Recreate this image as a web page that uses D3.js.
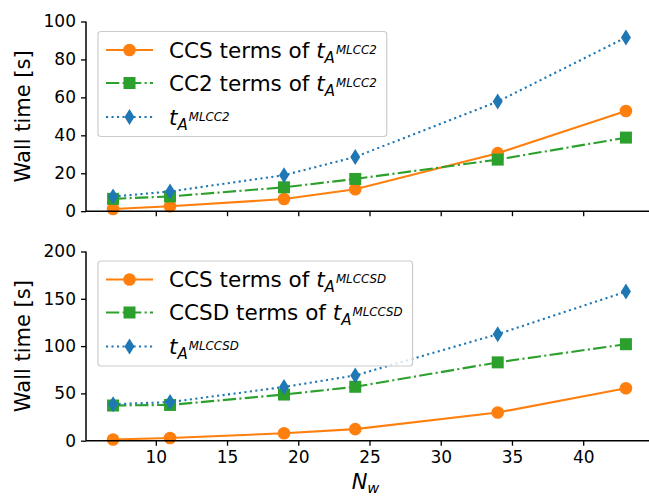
<!DOCTYPE html>
<html>
<head>
<meta charset="utf-8">
<script src="https://cdn.jsdelivr.net/npm/d3@7"></script>
<style>
  body { margin: 0; background: #fff; }
  text { font-family: "DejaVu Sans", sans-serif; fill: #000; }
</style>
</head>
<body>
<svg id="chart" width="649" height="496"></svg>
<script>
// number of water molecules
var nw = [7, 11, 19, 24, 34, 43];

// upper panel (MLCC2)
var ccsTop = [1.2, 2.6, 6.4, 11.6, 30.6, 52.8];
var cc2Top = [6.5, 7.8, 12.6, 17.0, 27.2, 38.8];
var totTop = [7.7, 10.4, 19.0, 28.6, 57.8, 91.6];

// lower panel (MLCCSD)
var ccsBot = [1.2, 2.8, 7.8, 12.2, 29.8, 55.4];
var ccsdBot = [37.2, 37.8, 48.8, 57.0, 82.8, 102.0];
var totBot = [38.6, 40.8, 56.8, 69.0, 112.6, 157.6];

var xTicks = [10, 15, 20, 25, 30, 35, 40];
var yTicksTop = [0, 20, 40, 60, 80, 100];
var yTicksBot = [0, 50, 100, 150, 200];

var orange = '#ff7f0e', green = '#2ca02c', blue = '#1f77b4';
var tickFont = 17, legendFont = 21.5, labelFont = 21;

var svg = d3.select('#chart');

var x = d3.scaleLinear().domain([5.1, 44.9]).range([86, 653]);

function zip(xs, ys) {
    return xs.map(function(v, i) { return [v, ys[i]]; });
}

// mathtext-ish t_{A^{sup}}
function mathLabel(sel, prefix, sup) {
    if (prefix) sel.append('tspan').text(prefix);
    sel.append('tspan').attr('font-style', 'italic').text('t');
    sel.append('tspan').attr('font-style', 'italic')
        .attr('font-size', legendFont * 0.7).attr('dy', 5).text('A');
    sel.append('tspan').attr('font-style', 'italic')
        .attr('font-size', legendFont * 0.55).attr('dy', -9).attr('dx', 1).text(sup);
}

function drawMarker(g, kind, cx, cy, color) {
    if (kind == 'circle') {
        g.append('circle').attr('cx', cx).attr('cy', cy).attr('r', 6.3).attr('fill', color);
    } else if (kind == 'square') {
        g.append('rect').attr('x', cx - 6).attr('y', cy - 6).attr('width', 12).attr('height', 12).attr('fill', color);
    } else {
        g.append('path')
            .attr('d', 'M' + cx + ',' + (cy - 8) + 'L' + (cx + 5) + ',' + cy + 'L' + cx + ',' + (cy + 8) + 'L' + (cx - 5) + ',' + cy + 'Z')
            .attr('fill', color);
    }
}

function panel(opts) {
    var y = d3.scaleLinear().domain(opts.ydomain).range(opts.yrange);
    var g = svg.append('g');

    var series = [
        {vals: opts.ccs, color: orange, dash: null, marker: 'circle', label: 'CCS terms of ', sup: opts.sup},
        {vals: opts.mid, color: green, dash: '13.3,3.3,2.1,3.3', marker: 'square', label: opts.midName + ' terms of ', sup: opts.sup},
        {vals: opts.tot, color: blue, dash: '2.1,3.4', marker: 'diamond', label: '', sup: opts.sup}
    ];

    var line = d3.line().x(function(d) { return x(d[0]); }).y(function(d) { return y(d[1]); });

    series.forEach(function(s) {
        var pts = zip(nw, s.vals);
        g.append('path').datum(pts)
            .attr('d', line)
            .attr('fill', 'none')
            .attr('stroke', s.color)
            .attr('stroke-width', 2.1)
            .attr('stroke-dasharray', s.dash);
        var mg = g.append('g');
        pts.forEach(function(p) { drawMarker(mg, s.marker, x(p[0]), y(p[1]), s.color); });
    });

    // axes (left + bottom spines only)
    var yAxis = g.append('g').attr('transform', 'translate(86,0)')
        .call(d3.axisLeft(y).tickValues(opts.yticks).tickSize(5).tickPadding(5));
    var xAxis = g.append('g').attr('transform', 'translate(0,' + opts.yrange[0] + ')')
        .call(d3.axisBottom(x).tickValues(xTicks).tickSize(5).tickPadding(5)
            .tickFormat(opts.showX ? d3.format('d') : function() { return ''; }));
    [yAxis, xAxis].forEach(function(a) {
        a.select('.domain').attr('stroke', '#000').attr('stroke-width', 1.5);
        a.selectAll('.tick line').attr('stroke', '#000').attr('stroke-width', 1.3);
        a.selectAll('.tick text').attr('font-size', tickFont).attr('font-family', '"DejaVu Sans", sans-serif').attr('fill', '#000');
    });
    yAxis.select('.domain').attr('d', 'M0,' + opts.yrange[0] + 'V' + opts.yrange[1]);
    xAxis.select('.domain').attr('d', 'M86,0H653');

    // y label
    var cy = (opts.yrange[0] + opts.yrange[1]) / 2;
    g.append('text')
        .attr('transform', 'translate(30,' + cy + ') rotate(-90)')
        .attr('text-anchor', 'middle')
        .attr('font-size', labelFont)
        .text('Wall time [s]');

    // legend
    var lg = g.append('g');
    var box = lg.append('rect')
        .attr('x', opts.legendX).attr('y', opts.legendY)
        .attr('rx', 3).attr('ry', 3)
        .attr('fill', 'white').attr('fill-opacity', 0.8)
        .attr('stroke', '#cccccc').attr('stroke-width', 1.2);
    var rowY = [18.5, 51.5, 85.5];
    var maxRight = 0;
    series.forEach(function(s, i) {
        var ry = opts.legendY + rowY[i];
        lg.append('line')
            .attr('x1', opts.legendX + 8).attr('x2', opts.legendX + 55)
            .attr('y1', ry).attr('y2', ry)
            .attr('stroke', s.color).attr('stroke-width', 2.1)
            .attr('stroke-dasharray', s.dash);
        drawMarker(lg, s.marker, opts.legendX + 31.5, ry, s.color);
        var t = lg.append('text')
            .attr('x', opts.legendX + 71)
            .attr('y', ry + 7.8)
            .attr('font-size', legendFont);
        mathLabel(t, s.label, s.sup);
        var bb = t.node().getBBox();
        maxRight = Math.max(maxRight, bb.x + bb.width);
    });
    box.attr('width', maxRight + 10 - opts.legendX).attr('height', 105);
}

panel({
    ydomain: [0, 100], yrange: [211.2, 21.5], yticks: yTicksTop,
    ccs: ccsTop, mid: cc2Top, tot: totTop, midName: 'CC2', sup: 'MLCC2',
    showX: false, legendX: 98, legendY: 31.5
});

panel({
    ydomain: [0, 200], yrange: [440.7, 251.5], yticks: yTicksBot,
    ccs: ccsBot, mid: ccsdBot, tot: totBot, midName: 'CCSD', sup: 'MLCCSD',
    showX: true, legendX: 98, legendY: 261
});

// x label N_w
var xl = svg.append('text')
    .attr('x', (86 + 653) / 2 - 4).attr('y', 489)
    .attr('text-anchor', 'middle')
    .attr('font-size', labelFont);
xl.append('tspan').attr('font-style', 'italic').text('N');
xl.append('tspan').attr('font-style', 'italic').attr('font-size', labelFont * 0.7).attr('dy', 4).text('w');
</script>
</body>
</html>
